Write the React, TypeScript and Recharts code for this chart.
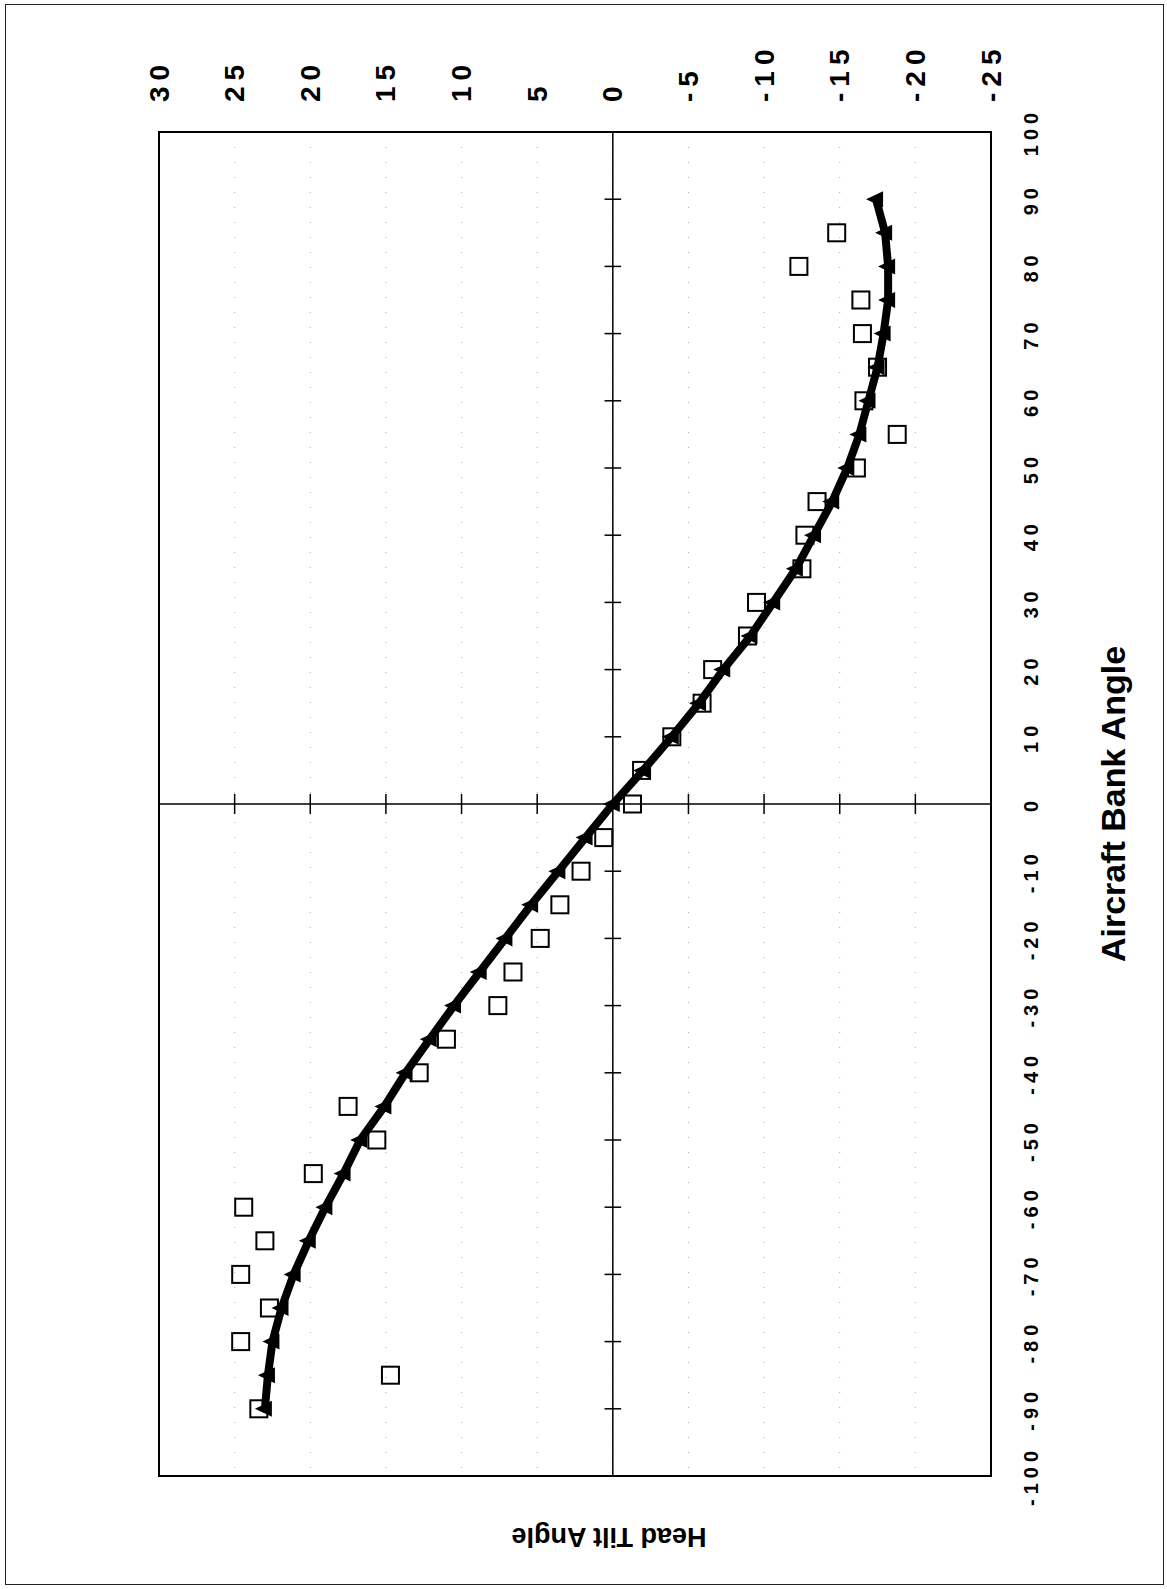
import {
  CartesianGrid,
  ReferenceArea,
  ReferenceLine,
  Scatter,
  ScatterChart,
  XAxis,
  YAxis,
} from "recharts";

// bank angle runs down the page (100 at top), head tilt runs across (30 on the left)
const bankAngles = [
  -90, -85, -80, -75, -70, -65, -60, -55, -50, -45, -40, -35, -30, -25, -20, -15, -10, -5, 0,
  5, 10, 15, 20, 25, 30, 35, 40, 45, 50, 55, 60, 65, 70, 75, 80, 85, 90,
];
const modelTilt = [
  23.0, 22.8, 22.5, 21.9, 21.1, 20.1, 19.0, 17.8, 16.7, 15.1, 13.7, 12.1, 10.5, 8.8, 7.1, 5.4,
  3.6, 1.8, 0, -2.0, -3.9, -5.7, -7.3, -9.1, -10.6, -12.1, -13.3, -14.5, -15.5, -16.3, -16.9,
  -17.5, -17.9, -18.2, -18.2, -18.0, -17.4,
];

const measuredBank = [
  -90, -85, -80, -75, -70, -65, -60, -55, -50, -45, -40, -35, -30, -25, -20, -15, -10, -5, 0,
  5, 10, 15, 20, 25, 30, 35, 40, 45, 50, 55, 60, 65, 70, 75, 80, 85,
];
const measuredTilt = [
  23.4, 14.7, 24.6, 22.7, 24.6, 23.0, 24.4, 19.8, 15.6, 17.5, 12.8, 11.0, 7.6, 6.6, 4.8, 3.5,
  2.1, 0.6, -1.3, -1.9, -3.9, -5.9, -6.6, -8.9, -9.5, -12.5, -12.7, -13.5, -16.1, -18.8, -16.6,
  -17.5, -16.5, -16.4, -12.3, -14.8,
];

const tiltTicks = [30, 25, 20, 15, 10, 5, 0, -5, -10, -15, -20, -25];
const bankTicks = [
  100, 90, 80, 70, 60, 50, 40, 30, 20, 10, 0, -10, -20, -30, -40, -50, -60, -70, -80, -90, -100,
];
// cross marks on the two zero lines
const bankMarks = [90, 80, 70, 60, 50, 40, 30, 20, 10, -10, -20, -30, -40, -50, -60, -70, -80, -90];
const tiltMarks = [25, 20, 15, 10, 5, -5, -10, -15, -20];

const model = bankAngles.map((b, i) => ({ bank: b, tilt: modelTilt[i] }));
const measured = measuredBank.map((b, i) => ({ bank: b, tilt: measuredTilt[i] }));

const FONT = '"Liberation Sans", Arial, Helvetica, sans-serif';

function TiltTick(props: any) {
  const { x, y, payload } = props;
  return (
    <text
      x={x}
      y={y}
      transform={`rotate(-90, ${x}, ${y})`}
      textAnchor="start"
      dominantBaseline="central"
      fontFamily={FONT}
      fontWeight="bold"
      fontSize={28}
      letterSpacing={6}
      fill="#000"
    >
      {payload.value}
    </text>
  );
}

function BankTick(props: any) {
  const { x, y, payload } = props;
  return (
    <text
      x={x}
      y={y}
      transform={`rotate(-90, ${x}, ${y})`}
      textAnchor="middle"
      dominantBaseline="central"
      fontFamily={FONT}
      fontWeight="bold"
      fontSize={20}
      letterSpacing={5}
      fill="#000"
    >
      {payload.value}
    </text>
  );
}

function OpenSquare(props: any) {
  const { cx, cy } = props;
  return <rect x={cx - 8.5} y={cy - 8.5} width={17} height={17} fill="none" stroke="#000" strokeWidth={2} />;
}

function LeftTriangle(props: any) {
  const { cx, cy } = props;
  return <polygon points={`${cx - 10},${cy} ${cx + 7},${cy - 8} ${cx + 7},${cy + 8}`} fill="#000" />;
}

function BankTitle(props: any) {
  const vb = props.viewBox;
  const x = vb.x + vb.width + 62;
  const y = vb.y + vb.height / 2;
  return (
    <text
      x={x}
      y={y}
      transform={`rotate(-90, ${x}, ${y})`}
      textAnchor="middle"
      dominantBaseline="central"
      fontFamily={FONT}
      fontWeight="bold"
      fontSize={34}
      fill="#000"
    >
      Aircraft Bank Angle
    </text>
  );
}

function TiltTitle(props: any) {
  const vb = props.viewBox;
  const x = vb.x + vb.width / 2 + 34;
  const y = vb.y + vb.height + 61;
  return (
    <text
      x={x}
      y={y}
      transform={`rotate(180, ${x}, ${y})`}
      textAnchor="middle"
      dominantBaseline="central"
      fontFamily={FONT}
      fontWeight="bold"
      fontSize={27}
      fill="#000"
    >
      Head Tilt Angle
    </text>
  );
}

export default function App() {
  return (
    <div style={{ position: "absolute", left: 0, top: 0, width: 1167, height: 1589, background: "#fff" }}>
      <div
        style={{
          position: "absolute",
          left: 5,
          top: 4,
          width: 1157,
          height: 1579,
          border: "1.5px solid #222",
        }}
      />
      <ScatterChart width={1167} height={1589} margin={{ top: 72, right: 116, bottom: 113, left: 159 }}>
        <CartesianGrid horizontal={false} stroke="#aaa" strokeDasharray="1 14" />
        <XAxis
          type="number"
          dataKey="tilt"
          domain={[-25, 30]}
          reversed
          orientation="top"
          ticks={tiltTicks}
          interval={0}
          height={60}
          axisLine={false}
          tickLine={false}
          tickSize={0}
          tickMargin={30}
          tick={TiltTick}
        />
        <YAxis
          type="number"
          dataKey="bank"
          domain={[-100, 100]}
          orientation="right"
          ticks={bankTicks}
          interval={0}
          width={60}
          axisLine={false}
          tickLine={false}
          tickSize={0}
          tickMargin={40}
          tick={BankTick}
          label={{ content: BankTitle }}
        />
        <ReferenceArea
          x1={-25}
          x2={30}
          y1={-100}
          y2={100}
          fill="none"
          stroke="#000"
          strokeWidth={2}
          label={{ content: TiltTitle }}
        />
        <ReferenceLine x={0} stroke="#000" strokeWidth={1.5} />
        <ReferenceLine y={0} stroke="#000" strokeWidth={1.5} />
        {bankMarks.map((b) => (
          <ReferenceLine
            key={`b${b}`}
            segment={[
              { x: -0.55, y: b },
              { x: 0.55, y: b },
            ]}
            stroke="#000"
            strokeWidth={1.5}
          />
        ))}
        {tiltMarks.map((t) => (
          <ReferenceLine
            key={`t${t}`}
            segment={[
              { x: t, y: -1.5 },
              { x: t, y: 1.5 },
            ]}
            stroke="#000"
            strokeWidth={1.5}
          />
        ))}
        <Scatter data={measured} shape={OpenSquare} isAnimationActive={false} />
        <Scatter
          data={model}
          shape={LeftTriangle}
          line={{ stroke: "#000", strokeWidth: 8 }}
          lineType="joint"
          isAnimationActive={false}
        />
      </ScatterChart>
    </div>
  );
}
